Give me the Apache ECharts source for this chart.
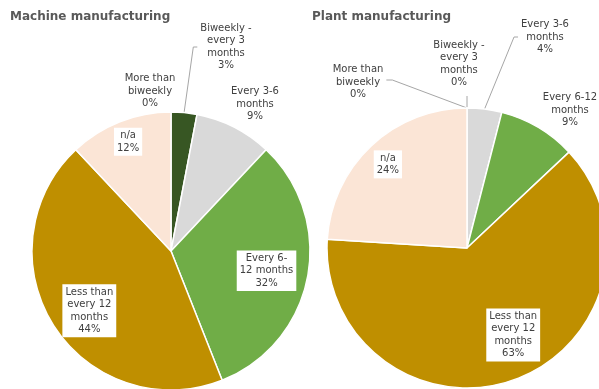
<!DOCTYPE html>
<html>
<head>
<meta charset="utf-8">
<script src="https://cdn.jsdelivr.net/npm/echarts@6/dist/echarts.min.js"></script>
<style>
  html, body { margin: 0; padding: 0; background: #ffffff; }
  #chart { width: 599px; height: 389px; }
</style>
</head>
<body>
<div id="chart"></div>
<script>
// Maintenance frequency categories (clockwise from 12 o'clock)
const categories = [
  'More than biweekly',
  'Biweekly - every 3 months',
  'Every 3-6 months',
  'Every 6-12 months',
  'Less than every 12 months',
  'n/a'
];

// Share of respondents, in percent
const machineValues = [0, 3, 9, 32, 44, 12];
const plantValues = [0, 0, 4, 9, 63, 24];

// Wrapped label text for each pie
const machineLabels = ['More than\nbiweekly', 'Biweekly -\nevery 3\nmonths', 'Every 3-6\nmonths', 'Every 6-\n12 months', 'Less than\nevery 12\nmonths', 'n/a'];
const plantLabels = ['More than\nbiweekly', 'Biweekly -\nevery 3\nmonths', 'Every 3-6\nmonths', 'Every 6-12\nmonths', 'Less than\nevery 12\nmonths', 'n/a'];

const titles = ['Machine manufacturing', 'Plant manufacturing'];

// ---- styling / layout ----
const sliceColors = ['#2a4a18', '#375623', '#d9d9d9', '#70ad47', '#bf8f00', '#fbe5d6'];
const FONT = '"DejaVu Sans", Verdana, sans-serif';
const TEXT_COLOR = '#404040';

const pies = [
  { values: machineValues, labels: machineLabels, center: [171, 251], r: 139,
    // labels placed outside the pie: [x, y, side the leader line attaches to]
    outer: { 0: [150, 91, null], 1: [226, 47, 'left'], 2: [255, 104, null] },
    // labels inside slices, with small nudges
    inner: { 3: [-3, 1], 4: [3, 6], 5: [-6, -16] } },
  { values: plantValues, labels: plantLabels, center: [467, 248], r: 140,
    outer: { 0: [358, 82, 'right'], 1: [459, 64, 'bottom'], 2: [545, 37, 'left'], 3: [570, 110, null] },
    inner: { 4: [12, -8], 5: [-10, -10] } }
];

function fmt(labels, values) {
  return function (p) { return labels[p.dataIndex] + '\n' + values[p.dataIndex] + '%'; };
}

// leader line from the slice edge to one side of its label
function leader(p, o) {
  const s = p.labelLinePoints[0];
  const w = p.labelRect.width, h = p.labelRect.height;
  const cx = o[0], cy = o[1];
  if (o[2] === 'left') {
    const lx = cx - w / 2;
    return [s, [lx - 7, cy], [lx - 3, cy]];
  }
  if (o[2] === 'right') {
    const rx = cx + w / 2;
    return [s, [rx + 9, cy - 2], [rx + 3, cy - 2]];
  }
  return [s, [s[0], cy + h / 2 + 7]];
}

const series = [];
pies.forEach(function (pie) {
  // slices with outside labels
  series.push({
    type: 'pie',
    center: pie.center,
    radius: pie.r,
    startAngle: 90,
    clockwise: true,
    avoidLabelOverlap: false,
    silent: true,
    itemStyle: { borderColor: '#ffffff', borderWidth: 1.5 },
    data: categories.map(function (c, i) {
      const o = pie.outer[i];
      return {
        name: c,
        value: pie.values[i],
        itemStyle: { color: sliceColors[i] },
        label: { show: !!o, position: 'outside' },
        labelLine: { show: !!(o && o[2]) }
      };
    }),
    label: {
      formatter: fmt(pie.labels, pie.values),
      fontFamily: FONT, fontSize: 10, lineHeight: 12.5,
      color: TEXT_COLOR, align: 'center'
    },
    labelLine: { lineStyle: { color: '#a6a6a6', width: 1 }, length: 10, length2: 5 },
    labelLayout: function (p) {
      const o = pie.outer[p.dataIndex];
      if (!o) return {};
      const res = { x: o[0], y: o[1], align: 'center', verticalAlign: 'middle' };
      if (o[2] && p.labelLinePoints) res.labelLinePoints = leader(p, o);
      return res;
    }
  });
  // transparent ring used only to place the in-slice labels further out
  series.push({
    type: 'pie',
    center: pie.center,
    radius: pie.r * 1.4,
    startAngle: 90,
    clockwise: true,
    avoidLabelOverlap: false,
    silent: true,
    z: 5,
    itemStyle: { color: 'rgba(0,0,0,0)', borderWidth: 0 },
    data: categories.map(function (c, i) {
      return {
        name: c,
        value: pie.values[i],
        label: { show: !!pie.inner[i], position: 'inside' },
        labelLine: { show: false }
      };
    }),
    label: {
      formatter: fmt(pie.labels, pie.values),
      fontFamily: FONT, fontSize: 10, lineHeight: 12.5,
      color: TEXT_COLOR, align: 'center',
      backgroundColor: '#ffffff', padding: [2, 3, 1, 3]
    },
    labelLayout: function (p) {
      const d = pie.inner[p.dataIndex];
      if (!d) return {};
      return { dx: d[0], dy: d[1] };
    }
  });
});

const chart = echarts.init(document.getElementById('chart'), null, { renderer: 'canvas' });
chart.setOption({
  animation: false,
  backgroundColor: '#ffffff',
  title: [
    { text: titles[0], left: 10, top: 11 },
    { text: titles[1], left: 312, top: 11 }
  ].map(function (t) {
    t.textStyle = { fontFamily: FONT, fontSize: 12, fontWeight: 'bold', color: '#595959' };
    t.padding = 0;
    return t;
  }),
  series: series
});
</script>
</body>
</html>
